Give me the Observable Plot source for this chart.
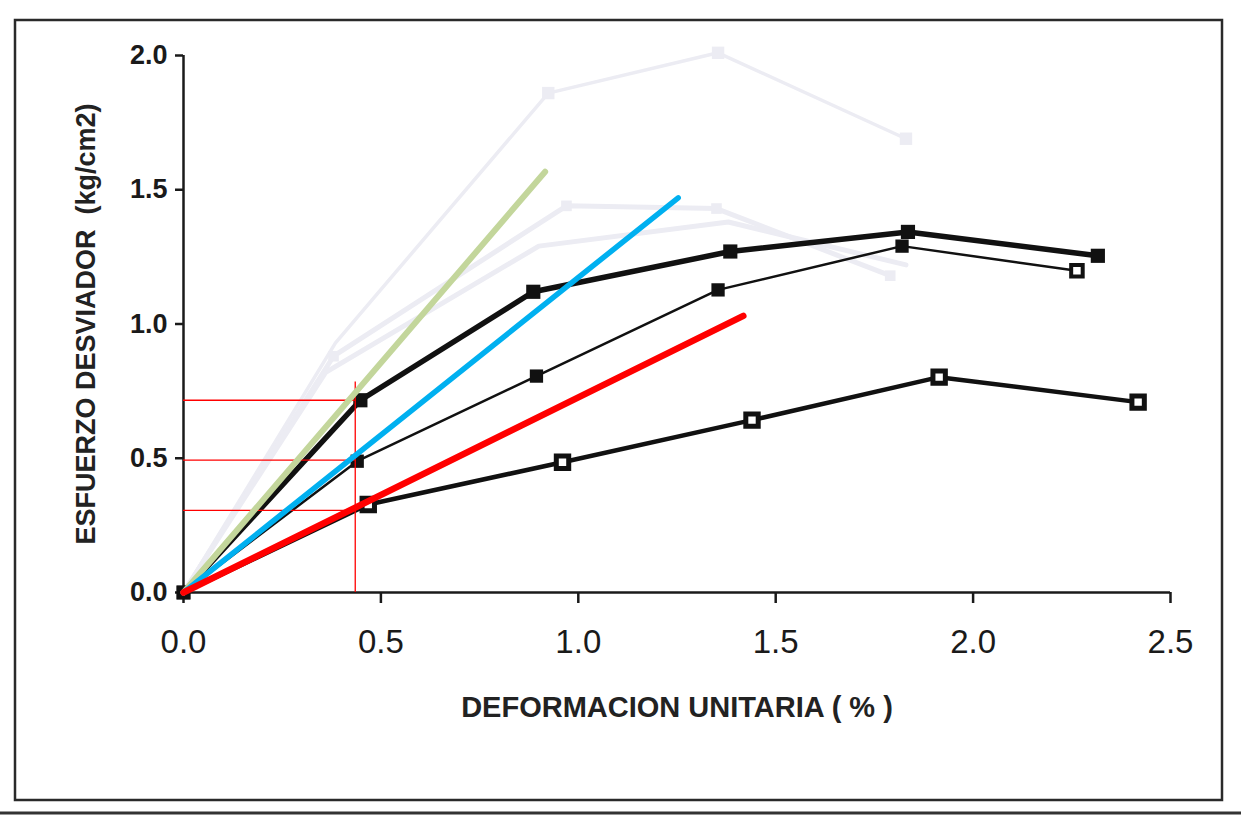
<!DOCTYPE html>
<html>
<head>
<meta charset="utf-8">
<script src="https://cdn.jsdelivr.net/npm/d3@7"></script>
<script src="https://cdn.jsdelivr.net/npm/@observablehq/plot@0.6"></script>
<style>
  html, body { margin: 0; padding: 0; background: #ffffff; }
  #chart { width: 1241px; height: 817px; position: relative; }
</style>
</head>
<body>
<div id="chart"></div>
<script>
// ---- data ----
const xTicks = [0, 0.5, 1.0, 1.5, 2.0, 2.5];
const yTicks = [0, 0.5, 1.0, 1.5, 2.0];

// black series
const strainA = [0, 0.448, 0.886, 1.385, 1.835, 2.316];
const stressA = [0, 0.716, 1.120, 1.270, 1.343, 1.254];
const strainB = [0, 0.440, 0.894, 1.354, 1.820, 2.263];
const stressB = [0, 0.489, 0.806, 1.127, 1.290, 1.198];
const strainC = [0, 0.468, 0.960, 1.440, 1.914, 2.418];
const stressC = [0, 0.328, 0.485, 0.642, 0.802, 0.709];

// faint (washed-out) series
const strainG1 = [0, 0.385, 0.924, 1.354, 1.830];
const stressG1 = [0, 0.930, 1.860, 2.010, 1.690];
const strainG2 = [0, 0.380, 0.970, 1.350, 1.790];
const stressG2 = [0, 0.880, 1.440, 1.430, 1.180];
const strainG3 = [0, 0.360, 0.900, 1.380, 1.830];
const stressG3 = [0, 0.820, 1.290, 1.380, 1.220];

// overlaid tangent lines
const greenLine = {x: [0, 0.916], y: [0, 1.567]};
const blueLine  = {x: [0, 1.253], y: [0, 1.470]};
const redLine   = {x: [0, 1.418], y: [0, 1.030]};

// red guide lines
const guideX = 0.435;
const guideTop = 0.784;
const guideLevels = [0.716, 0.493, 0.306];

// ---- build rows ----
const rows = (xs, ys) => xs.map((x, i) => ({x, y: ys[i]}));
const A = rows(strainA, stressA);
const B = rows(strainB, stressB);
const C = rows(strainC, stressC);
const G1 = rows(strainG1, stressG1);
const G2 = rows(strainG2, stressG2);
const G3 = rows(strainG3, stressG3);
const green = rows(greenLine.x, greenLine.y);
const blue = rows(blueLine.x, blueLine.y);
const red = rows(redLine.x, redLine.y);

const faint = "#ececf3";
const font = "'Liberation Sans', Arial, sans-serif";

const chart = Plot.plot({
  width: 1241,
  height: 817,
  marginLeft: 183,
  marginRight: 71,
  marginTop: 55,
  marginBottom: 225,
  style: {background: "#ffffff", fontFamily: font, color: "#1a1a1a"},
  x: {domain: [0, 2.5]},
  y: {domain: [0, 2.0]},
  marks: [
    // faint series
    Plot.line(G1, {x: "x", y: "y", stroke: faint, strokeWidth: 3.5}),
    Plot.line(G2, {x: "x", y: "y", stroke: faint, strokeWidth: 5}),
    Plot.line(G3, {x: "x", y: "y", stroke: faint, strokeWidth: 5}),
    Plot.dot(G1.slice(2), {x: "x", y: "y", symbol: "square", r: 7, fill: faint}),
    Plot.dot(G2.slice(1), {x: "x", y: "y", symbol: "square", r: 6, fill: faint}),

    // axes lines
    Plot.ruleX([0], {y1: 0, y2: 2.0, stroke: "#1a1a1a", strokeWidth: 2.5}),
    Plot.ruleY([0], {x1: 0, x2: 2.5, stroke: "#1a1a1a", strokeWidth: 2.5}),
    Plot.axisX({ticks: xTicks, tickFormat: d3.format(".1f"), tickSize: 11, tickPadding: 26,
      fontSize: 33, strokeWidth: 2.5, label: null, fill: "#1a1a1a"}),
    Plot.axisY({ticks: yTicks, tickFormat: d3.format(".1f"), tickSize: 8, tickPadding: 8,
      fontSize: 27, fontWeight: "bold", strokeWidth: 2.5, label: null, fill: "#1a1a1a"}),

    // black series
    Plot.line(C, {x: "x", y: "y", stroke: "#111", strokeWidth: 4.5}),
    Plot.line(B, {x: "x", y: "y", stroke: "#111", strokeWidth: 2.5}),
    Plot.line(A, {x: "x", y: "y", stroke: "#111", strokeWidth: 5.5}),
    Plot.dot(A, {x: "x", y: "y", symbol: "square", r: 8, fill: "#111"}),
    Plot.dot(B.slice(0, 5), {x: "x", y: "y", symbol: "square", r: 7.5, fill: "#111"}),
    Plot.dot(B.slice(5), {x: "x", y: "y", symbol: "square", r: 6.5, fill: "#fff", stroke: "#111", strokeWidth: 4}),
    Plot.dot(C.slice(1), {x: "x", y: "y", symbol: "square", r: 7, fill: "#fff", stroke: "#111", strokeWidth: 5}),

    // red guide lines
    Plot.ruleX([guideX], {y1: 0, y2: guideTop, stroke: "#ff0000", strokeWidth: 1.3}),
    Plot.ruleY(guideLevels, {x1: 0, x2: guideX, stroke: "#ff0000", strokeWidth: 1.3}),

    // coloured tangent lines
    Plot.line(green, {x: "x", y: "y", stroke: "#c3d69b", strokeWidth: 6}),
    Plot.line(blue, {x: "x", y: "y", stroke: "#00b0f0", strokeWidth: 5.5}),
    Plot.line(red, {x: "x", y: "y", stroke: "#ff0000", strokeWidth: 6.5}),

    // axis titles
    Plot.text(["DEFORMACION UNITARIA ( % )"], {frameAnchor: "bottom", dy: 124, fontSize: 29,
      fontWeight: "bold", fill: "#222", textAnchor: "middle"}),
    Plot.text(["ESFUERZO DESVIADOR  (kg/cm2)"], {frameAnchor: "left", dx: -97, rotate: -90,
      textAnchor: "middle", fontSize: 27, fontWeight: "bold", fill: "#222"})
  ]
});

document.getElementById("chart").appendChild(chart);

// outer frame of the scanned figure (decoration)
const svg = d3.select(chart);
svg.append("rect")
  .attr("x", 15).attr("y", 20).attr("width", 1207).attr("height", 780)
  .attr("fill", "none").attr("stroke", "#2a2a2a").attr("stroke-width", 2.5);
svg.append("line")
  .attr("x1", 0).attr("x2", 1241).attr("y1", 813).attr("y2", 813)
  .attr("stroke", "#333").attr("stroke-width", 3);
</script>
</body>
</html>
